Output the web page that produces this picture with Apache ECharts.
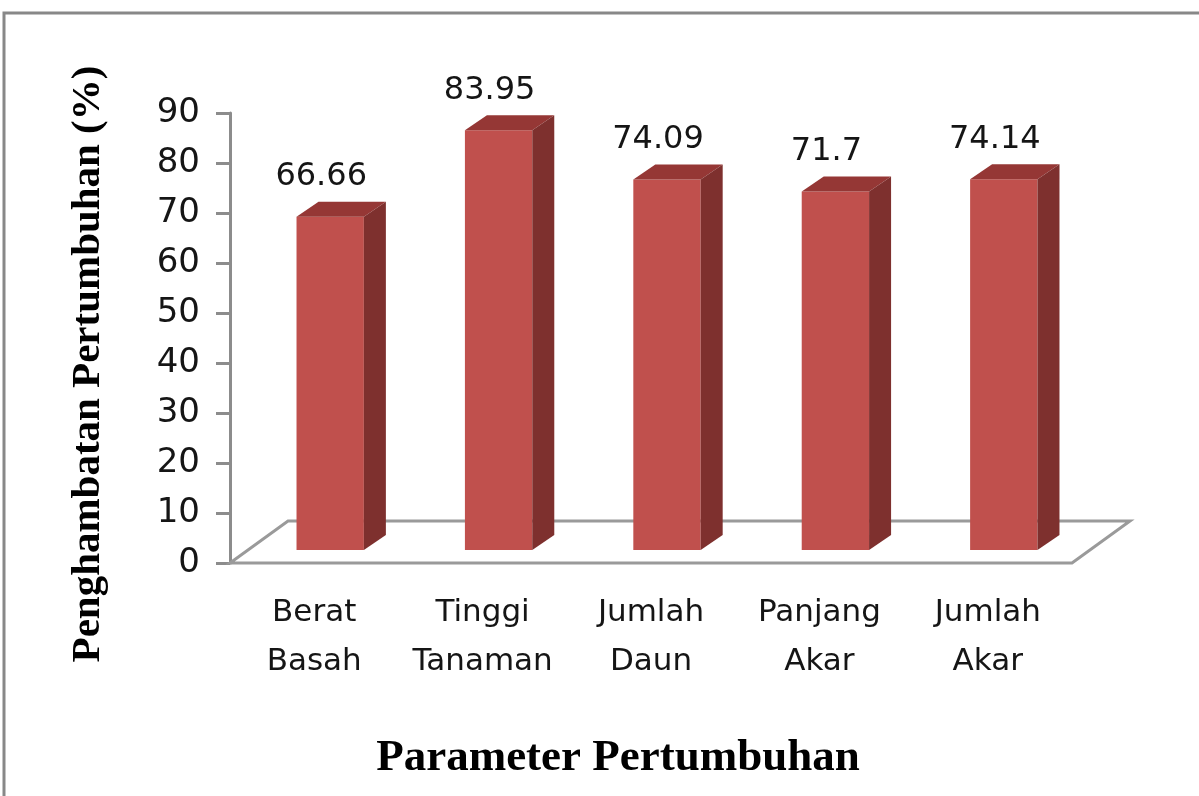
<!DOCTYPE html>
<html>
<head>
<meta charset="utf-8">
<script src="https://cdn.jsdelivr.net/npm/echarts@6/dist/echarts.min.js"></script>
<style>
  html, body { margin: 0; padding: 0; background: #fff; }
  #main { width: 1199px; height: 796px; }
</style>
</head>
<body>
<div id="main"></div>
<script>
var categories = ["Berat\nBasah", "Tinggi\nTanaman", "Jumlah\nDaun", "Panjang\nAkar", "Jumlah\nAkar"];
var values = [66.66, 83.95, 74.09, 71.7, 74.14];
var yTicks = { min: 0, max: 90, interval: 10 };

// 3d look, in pixels
var OFF_X = 16, OFF_Y = -13;   // front plane of the bars inside the floor
var DX = 22, DY = -15;         // bar depth
var FLOOR_DX = 58, FLOOR_DY = -42;

var myChart = echarts.init(document.getElementById("main"));

function renderFloor(params, api) {
  var band = api.size([1, 0])[0];
  var first = api.coord([0, 0]);
  var last = api.coord([categories.length - 1, 0]);
  var l = first[0] - band / 2, r = last[0] + band / 2, y = first[1];
  return {
    type: "polygon",
    shape: { points: [[l, y], [r, y], [r + FLOOR_DX, y + FLOOR_DY], [l + FLOOR_DX, y + FLOOR_DY]] },
    style: { fill: "#fff", stroke: "#9a9a9a", lineWidth: 3 }
  };
}

function renderBar(params, api) {
  var idx = api.value(0), val = api.value(1);
  var base = api.coord([idx, 0]);
  var top = api.coord([idx, val]);
  var band = api.size([1, 0])[0];
  var w = band * 0.4;
  var x0 = base[0] + OFF_X - w / 2, x1 = x0 + w;
  var yb = base[1] + OFF_Y, yt = top[1] + OFF_Y;
  return {
    type: "group",
    children: [
      { type: "rect", shape: { x: x0, y: yt, width: w, height: yb - yt }, style: { fill: "#C0504D" } },
      { type: "polygon", shape: { points: [[x0, yt], [x1, yt], [x1 + DX, yt + DY], [x0 + DX, yt + DY]] }, style: { fill: "#953735" } },
      { type: "polygon", shape: { points: [[x1, yt], [x1 + DX, yt + DY], [x1 + DX, yb + DY], [x1, yb]] }, style: { fill: "#7E302E" } },
      {
        type: "text", x: (x0 + x1) / 2 - 9, y: yt + DY - 9,
        style: { text: String(values[idx]), fontFamily: "DejaVu Sans", fontSize: 32, fill: "#151515", align: "center", verticalAlign: "bottom" }
      }
    ]
  };
}

var option = {
  animation: false,
  grid: { left: 230, right: 127, top: 113, bottom: 233 },
  xAxis: {
    type: "category",
    data: categories,
    axisLine: { show: false },
    axisTick: { show: false },
    axisLabel: { fontFamily: "DejaVu Sans", fontSize: 31, color: "#151515", lineHeight: 49, margin: 25, interval: 0 }
  },
  yAxis: {
    type: "value",
    min: yTicks.min,
    max: yTicks.max,
    interval: yTicks.interval,
    splitLine: { show: false },
    axisLine: { show: true, lineStyle: { color: "#8c8c8c", width: 3 } },
    axisTick: { show: true, length: 14, lineStyle: { color: "#8c8c8c", width: 3 } },
    axisLabel: { fontFamily: "DejaVu Sans", fontSize: 34, color: "#151515", margin: 30 }
  },
  graphic: [
    { type: "rect", shape: { x: 4, y: 13, width: 1300, height: 900 }, style: { fill: "none", stroke: "#888", lineWidth: 3 } },
    {
      type: "text", x: 88, y: 364, rotation: Math.PI / 2,
      style: { text: "Penghambatan Pertumbuhan (%)", fontFamily: "Liberation Serif", fontWeight: "bold", fontSize: 41, fill: "#000", align: "center", verticalAlign: "middle" }
    },
    {
      type: "text", x: 618, y: 758,
      style: { text: "Parameter Pertumbuhan", fontFamily: "Liberation Serif", fontWeight: "bold", fontSize: 45, fill: "#000", align: "center", verticalAlign: "middle" }
    }
  ],
  series: [
    { type: "custom", renderItem: renderFloor, data: [[0, 0]], encode: { x: 0, y: 1 }, silent: true, z: 1 },
    { type: "custom", renderItem: renderBar, data: values.map(function (v, i) { return [i, v]; }), encode: { x: 0, y: 1 }, z: 2 }
  ]
};

myChart.setOption(option);
</script>
</body>
</html>
